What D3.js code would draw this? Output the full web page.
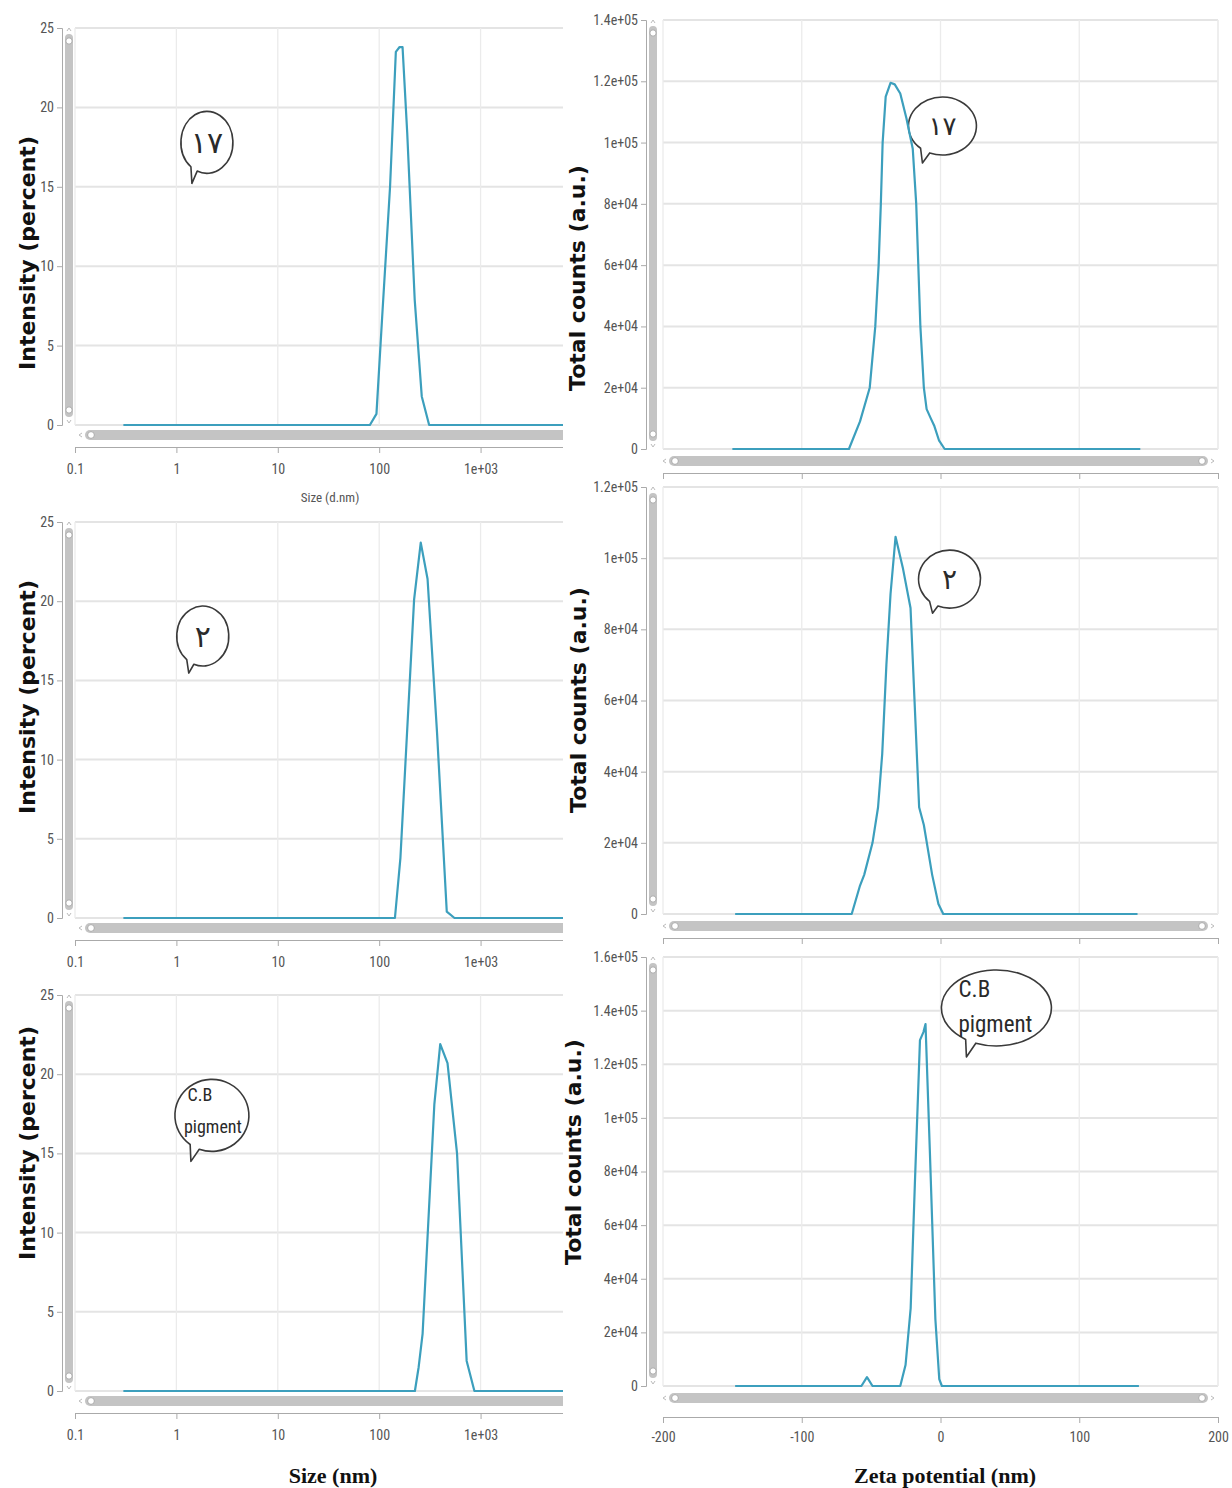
<!DOCTYPE html>
<html><head><meta charset="utf-8">
<script src="https://cdn.jsdelivr.net/npm/d3@7"></script>
<style>body{margin:0;background:#fff}</style>
</head><body>
<svg id="chart" width="1232" height="1488" xmlns="http://www.w3.org/2000/svg"></svg>
<script>
// ---------------- DATA ----------------
const sizeTickValues = [0.1, 1, 10, 100, 1000];
const sizeTickLabels = ["0.1", "1", "10", "100", "1e+03"];
const intensityTicks = [0, 5, 10, 15, 20, 25];
const intensityTickLabels = ["0", "5", "10", "15", "20", "25"];

const zetaTickValues = [-200, -100, 0, 100, 200];
const zetaTickLabels = ["-200", "-100", "0", "100", "200"];

const countTicks17 = [0, 2e4, 4e4, 6e4, 8e4, 1e5, 1.2e5, 1.4e5];
const countTickLabels17 = ["0", "2e+04", "4e+04", "6e+04", "8e+04", "1e+05", "1.2e+05", "1.4e+05"];
const countTicks2 = [0, 2e4, 4e4, 6e4, 8e4, 1e5, 1.2e5];
const countTickLabels2 = ["0", "2e+04", "4e+04", "6e+04", "8e+04", "1e+05", "1.2e+05"];
const countTicksCB = [0, 2e4, 4e4, 6e4, 8e4, 1e5, 1.2e5, 1.4e5, 1.6e5];
const countTickLabelsCB = ["0", "2e+04", "4e+04", "6e+04", "8e+04", "1e+05", "1.2e+05", "1.4e+05", "1.6e+05"];

// Size distribution (size nm, intensity %)
const size17 = [[0.3,0],[81,0],[94,0.7],[107,6.8],[128,15],[146,23.5],[159,23.8],[170,23.8],[189,18.4],[224,7.9],[263,1.8],[311,0],[6500,0]];
const size2  = [[0.3,0],[143,0],[162,3.8],[221,20.1],[257,23.7],[300,21.4],[372,11.7],[464,0.4],[553,0],[6500,0]];
const sizeCB = [[0.3,0],[225,0],[245,1.5],[268,3.6],[350,18.1],[400,21.9],[472,20.7],[586,15],[729,1.9],[869,0],[6500,0]];

// Zeta potential (mV, total counts)
const zeta17 = [[-150,0],[-66,0],[-58,9000],[-51,20000],[-47,40000],[-44.6,60000],[-43,80000],[-41.7,100000],[-39.5,115000],[-36,119500],[-33,119000],[-29,116000],[-24.6,108000],[-20,98000],[-17.5,80000],[-14.5,40000],[-12,20000],[-10,13000],[-7,10000],[-4.6,7700],[-1,2700],[3,0],[144,0]];
const zeta2  = [[-148,0],[-64,0],[-58,8000],[-55,11000],[-49,20000],[-45,30000],[-42,45000],[-39,70000],[-36,90000],[-32.4,106000],[-27,97000],[-21.6,86000],[-18.5,58000],[-15.4,30000],[-12,25000],[-6,11000],[-1.5,2800],[2,0],[142,0]];
const zetaCB = [[-148,0],[-57,0],[-53,3300],[-49,0],[-29,0],[-25.2,7800],[-21.5,29000],[-18.5,75000],[-14.8,129000],[-12.3,132000],[-10.8,135000],[-7.7,88000],[-3.7,25000],[-0.9,2600],[1,0],[143,0]];

// Annotation labels (sample names)
const sampleLabels = ["\u06F1\u06F7", "\u06F2", "C.B pigment"];

// ---------------- DRAWING ----------------
const svg = d3.select("#chart");
const LINE = "#3c9fbd";
const TICKFONT = "'Liberation Sans Narrow','Roboto Condensed','Open Sans',sans-serif";

svg.append("defs").append("clipPath").attr("id", "leftclip")
  .append("rect").attr("x", 0).attr("y", 0).attr("width", 563).attr("height", 1488);

function bubble(g, cx, cy, rx, ry, tipdx, tipdy, a1, a2, lines, fs) {
  const rad = a => a * Math.PI / 180;
  const p1 = [cx + rx * Math.cos(rad(a1)), cy + ry * Math.sin(rad(a1))];
  const p2 = [cx + rx * Math.cos(rad(a2)), cy + ry * Math.sin(rad(a2))];
  const d = `M${p2[0]},${p2[1]} A${rx},${ry} 0 1 1 ${p1[0]},${p1[1]} L${cx + tipdx},${cy + tipdy} Z`;
  g.append("path").attr("d", d).attr("fill", "#fff").attr("stroke", "#3a3a3a")
    .attr("stroke-width", 1.6).attr("stroke-linejoin", "round");
  lines.forEach(l => {
    g.append("text").attr("x", cx + l.dx).attr("y", cy + l.dy)
      .attr("text-anchor", l.anchor || "middle")
      .attr("font-family", l.font || "'DejaVu Sans',sans-serif")
      .attr("font-size", fs).attr("fill", "#2a2a2a")
      .text(l.t);
  });
}

function vScroll(g, x, y1, y2) {
  g.append("rect").attr("x", x).attr("y", y1).attr("width", 8).attr("height", y2 - y1)
    .attr("rx", 4).attr("fill", "#c4c4c4");
  g.append("circle").attr("cx", x + 4).attr("cy", y1 + 7).attr("r", 3.2).attr("fill", "#fff").attr("stroke", "#aaa");
  g.append("circle").attr("cx", x + 4).attr("cy", y2 - 7).attr("r", 3.2).attr("fill", "#fff").attr("stroke", "#aaa");
  g.append("path").attr("d", `M${x+2},${y1-3} L${x+4},${y1-6} L${x+6},${y1-3}`).attr("fill", "none").attr("stroke", "#bbb");
  g.append("path").attr("d", `M${x+2},${y2+3} L${x+4},${y2+6} L${x+6},${y2+3}`).attr("fill", "none").attr("stroke", "#bbb");
}
function hScroll(g, x1, x2, yc, rightEnd) {
  g.append("rect").attr("x", x1).attr("y", yc - 5).attr("width", x2 - x1).attr("height", 10)
    .attr("rx", 5).attr("fill", "#c4c4c4");
  g.append("circle").attr("cx", x1 + 6).attr("cy", yc).attr("r", 3.4).attr("fill", "#fff").attr("stroke", "#aaa");
  g.append("path").attr("d", `M${x1-3},${yc-2} L${x1-6},${yc} L${x1-3},${yc+2}`).attr("fill", "none").attr("stroke", "#bbb");
  if (rightEnd) {
    g.append("circle").attr("cx", x2 - 6).attr("cy", yc).attr("r", 3.4).attr("fill", "#fff").attr("stroke", "#aaa");
    g.append("path").attr("d", `M${x2+3},${yc-2} L${x2+6},${yc} L${x2+3},${yc+2}`).attr("fill", "none").attr("stroke", "#bbb");
  }
}

function panel(o) {
  const g = svg.append("g");
  if (o.clip) g.attr("clip-path", `url(#${o.clip})`);
  const x = o.xScale, y = o.yScale;
  const [xl, xr] = x.range();
  const [yb, yt] = y.range();
  // grid
  g.selectAll(".hg").data(o.yTicks).join("line")
    .attr("x1", xl).attr("x2", xr).attr("y1", d => y(d)).attr("y2", d => y(d))
    .attr("stroke", "#e4e4e4").attr("stroke-width", 2);
  g.selectAll(".vg").data(o.xTicks).join("line")
    .attr("x1", d => x(d)).attr("x2", d => x(d)).attr("y1", yt).attr("y2", yb)
    .attr("stroke", "#ebebeb").attr("stroke-width", 1.3);
  if (o.rightBorder) g.append("line").attr("x1", xr).attr("x2", xr).attr("y1", yt).attr("y2", yb)
    .attr("stroke", "#ebebeb").attr("stroke-width", 1.3);

  // y axis
  const ya = g.append("g").attr("transform", `translate(${o.yAxisX},0)`)
    .call(d3.axisLeft(y).tickValues(o.yTicks).tickFormat((d, i) => o.yTickLabels[i]).tickSize(5).tickPadding(3));
  ya.select(".domain").attr("stroke", "#aaa");
  ya.selectAll(".tick line").attr("stroke", "#aaa");
  ya.selectAll("text").attr("font-family", TICKFONT).attr("font-size", 14).attr("fill", "#555");
  vScroll(g, o.yAxisX + 3, yt + 6, yb - 8);

  // x axis
  const xa = g.append("g").attr("transform", `translate(0,${yb + o.xAxisOff})`)
    .call(d3.axisBottom(x).tickValues(o.xTicks).tickFormat((d, i) => o.showXLabels ? o.xTickLabels[i] : "").tickSize(6).tickPadding(o.xPad).tickSizeOuter(0));
  xa.select(".domain").attr("stroke", "#aaa");
  xa.selectAll(".tick line").attr("stroke", "#aaa");
  xa.selectAll("text").attr("font-family", TICKFONT).attr("font-size", 14).attr("fill", "#555");
  hScroll(g, o.hsX1, o.hsX2, yb + o.hsOff, o.hsRightEnd);

  // bubble annotation (under the curve)
  if (o.bubble) {
    const b = o.bubble;
    bubble(g, x(b.x), y(b.y), b.rx, b.ry, b.tdx, b.tdy, b.a1, b.a2, b.lines, b.fs);
  }

  // curve
  g.append("path").datum(o.data)
    .attr("d", d3.line().x(d => x(d[0])).y(d => y(d[1])))
    .attr("fill", "none").attr("stroke", LINE).attr("stroke-width", 2.2).attr("stroke-linejoin", "round");

  // y title
  g.append("text").attr("transform", `translate(${o.titleX},${o.titleY}) rotate(-90)`)
    .attr("text-anchor", "middle").attr("dominant-baseline", "central")
    .attr("font-family", "'DejaVu Sans',Verdana,sans-serif").attr("font-weight", "bold").attr("font-size", 22)
    .attr("fill", "#111").text(o.yTitle);
  return g;
}

const persian17 = sampleLabels[0], persian2 = sampleLabels[1];
const cbParts = sampleLabels[2].split(" ");

// Left column: size distributions
const leftRows = [
  { top: 28, bottom: 425, data: size17, titleY: 253,
    bubble: { x: 2.0, y: 17.8, rx: 26, ry: 31, tdx: -15, tdy: 41, a1: 112, a2: 128, fs: 30,
      lines: [{ t: persian17, dx: 0, dy: 11 }] } },
  { top: 522, bottom: 918, data: size2, titleY: 697,
    bubble: { x: 1.82, y: 17.8, rx: 26, ry: 30, tdx: -14, tdy: 37, a1: 110, a2: 128, fs: 30,
      lines: [{ t: persian2, dx: 0, dy: 11 }] } },
  { top: 995, bottom: 1391, data: sizeCB, titleY: 1143,
    bubble: { x: 2.24, y: 17.4, rx: 37, ry: 36, tdx: -21, tdy: 46, a1: 110, a2: 126, fs: 18,
      lines: [{ t: cbParts[0], dx: -12, dy: -14, font: TICKFONT }, { t: cbParts[1], dx: 1, dy: 18, font: TICKFONT }] } }
];
leftRows.forEach((r, i) => {
  panel({
    xScale: d3.scaleLog().domain([0.1, 6500]).range([75, 563]),
    yScale: d3.scaleLinear().domain([0, 25]).range([r.bottom, r.top]),
    xTicks: sizeTickValues, xTickLabels: sizeTickLabels, showXLabels: true, xPad: 11,
    yTicks: intensityTicks, yTickLabels: intensityTickLabels, clip: "leftclip",
    yAxisX: 62, xAxisOff: 22, hsX1: 85, hsX2: 600, hsOff: 10, hsRightEnd: false,
    data: r.data, bubble: r.bubble, titleX: 27, titleY: r.titleY, yTitle: "Intensity (percent)"
  });
});
svg.append("text").attr("x", 330).attr("y", 502).attr("text-anchor", "middle")
  .attr("font-family", TICKFONT).attr("font-size", 13).attr("fill", "#555").text("Size (d.nm)");

// Right column: zeta potential
const rightRows = [
  { top: 20, bottom: 449, max: 1.4e5, ticks: countTicks17, labels: countTickLabels17, data: zeta17, titleX: 577, titleY: 278, showX: false,
    bubble: { x: 1.4, y: 1.054e5, rx: 34, ry: 29, tdx: -20, tdy: 37, a1: 112, a2: 130, fs: 26,
      lines: [{ t: persian17, dx: 0, dy: 9 }] } },
  { top: 487, bottom: 914, max: 1.2e5, ticks: countTicks2, labels: countTickLabels2, data: zeta2, titleX: 578, titleY: 700, showX: false,
    bubble: { x: 6.5, y: 9.41e4, rx: 31, ry: 29, tdx: -17, tdy: 34, a1: 112, a2: 130, fs: 28,
      lines: [{ t: persian2, dx: 0, dy: 10 }] } },
  { top: 957, bottom: 1386, max: 1.6e5, ticks: countTicksCB, labels: countTickLabelsCB, data: zetaCB, titleX: 573, titleY: 1152, showX: true,
    bubble: { x: 40.3, y: 1.41e5, rx: 55, ry: 38, tdx: -30, tdy: 49, a1: 112, a2: 124, fs: 23,
      lines: [{ t: cbParts[0], dx: -22, dy: -11, font: TICKFONT }, { t: cbParts[1], dx: -1, dy: 24, font: TICKFONT }] } }
];
rightRows.forEach(r => {
  panel({
    xScale: d3.scaleLinear().domain([-200, 200]).range([663, 1218]),
    yScale: d3.scaleLinear().domain([0, r.max]).range([r.bottom, r.top]),
    xTicks: zetaTickValues, xTickLabels: zetaTickLabels, showXLabels: r.showX, xPad: 9,
    yTicks: r.ticks, yTickLabels: r.labels, rightBorder: true,
    yAxisX: 646, xAxisOff: r.showX ? 31 : 24, hsX1: 669, hsX2: 1208, hsOff: 12, hsRightEnd: true,
    data: r.data, bubble: r.bubble, titleX: r.titleX, titleY: r.titleY, yTitle: "Total counts (a.u.)"
  });
});

// Bottom titles
svg.append("text").attr("x", 333).attr("y", 1483).attr("text-anchor", "middle")
  .attr("font-family", "'Liberation Serif','Times New Roman',serif").attr("font-weight", "bold")
  .attr("font-size", 22).attr("fill", "#111").text("Size (nm)");
svg.append("text").attr("x", 945).attr("y", 1483).attr("text-anchor", "middle")
  .attr("font-family", "'Liberation Serif','Times New Roman',serif").attr("font-weight", "bold")
  .attr("font-size", 22).attr("fill", "#111").text("Zeta potential (nm)");
</script>
</body></html>
